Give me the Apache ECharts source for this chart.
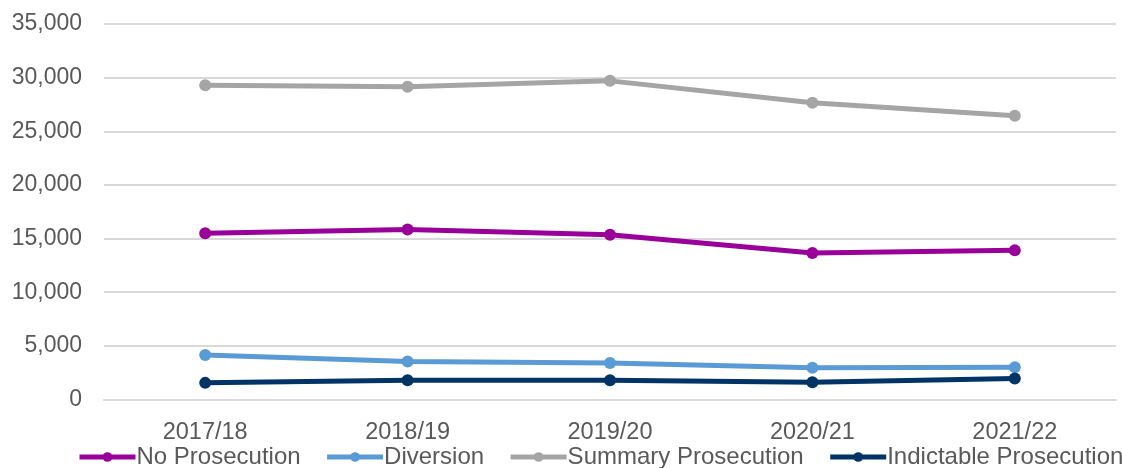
<!DOCTYPE html>
<html><head><meta charset="utf-8">
<script src="https://cdn.jsdelivr.net/npm/echarts@6/dist/echarts.min.js"></script>
<style>html,body{margin:0;padding:0;background:#fff}#c{width:1122px;height:468px}</style>
</head><body><div id="c"></div>
<script>
const categories = ['2017/18','2018/19','2019/20','2020/21','2021/22'];
const noProsecution = [15500, 15850, 15350, 13650, 13900];
const diversion = [4150, 3550, 3400, 2950, 3000];
const summaryProsecution = [29300, 29150, 29700, 27650, 26450];
const indictableProsecution = [1550, 1800, 1800, 1600, 1950];
const seriesNames = ['No Prosecution','Diversion','Summary Prosecution','Indictable Prosecution'];
const colors = ['#990099','#5B9BD5','#A5A5A5','#003366'];
const values = [noProsecution, diversion, summaryProsecution, indictableProsecution];
const font = 'Liberation Sans, Arial, sans-serif';
const chart = echarts.init(document.getElementById('c'));
chart.setOption({
  animation:false,
  color: colors,
  grid:{left:104,right:6,top:24,bottom:68.5,containLabel:false},
  legend:{bottom:-6,left:72,width:1080,padding:[5,0,5,5],itemWidth:56,itemHeight:12,itemGap:24,
    lineStyle:{width:5},
    textStyle:{fontFamily:font,fontSize:24,color:'#595959',padding:[0,0,0,-4]},
    data:seriesNames},
  xAxis:{type:'category',data:categories,boundaryGap:true,
    axisLine:{lineStyle:{color:'#d9d9d9',width:2}},axisTick:{show:false},
    axisLabel:{fontFamily:font,fontSize:23.5,color:'#595959',margin:21}},
  yAxis:{type:'value',min:0,max:35000,interval:5000,
    axisLine:{show:false},axisTick:{show:false},
    splitLine:{lineStyle:{color:'#d9d9d9',width:2}},
    axisLabel:{fontFamily:font,fontSize:23,color:'#595959',margin:22,
      formatter:v=>v.toLocaleString('en-US')}},
  series: seriesNames.map((n,i)=>({name:n,type:'line',data:values[i],
    symbol:'circle',symbolSize:12,lineStyle:{width:5,color:colors[i]},
    itemStyle:{color:colors[i]}}))
});
</script></body></html>
